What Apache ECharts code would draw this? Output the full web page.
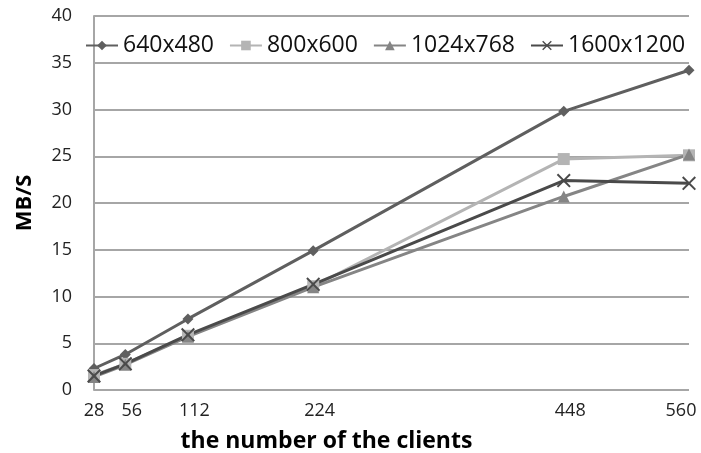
<!DOCTYPE html>
<html>
<head>
<meta charset="utf-8">
<script src="https://cdn.jsdelivr.net/npm/echarts@6/dist/echarts.min.js"></script>
<style>
html, body { margin: 0; padding: 0; background: #fff; }
#main { width: 701px; height: 453px; }
</style>
</head>
<body>
<div id="main"></div>
<script>
var clients = [28, 56, 112, 224, 448, 560];
var r640 = [2.3, 3.8, 7.6, 14.9, 29.8, 34.2];
var r800 = [1.6, 2.8, 5.8, 11.1, 24.7, 25.1];
var r1024 = [1.4, 2.7, 5.7, 11.0, 20.7, 25.2];
var r1600 = [1.5, 2.8, 5.9, 11.3, 22.4, 22.1];
var names = ['640x480', '800x600', '1024x768', '1600x1200'];

var chart = echarts.init(document.getElementById('main'), null, { renderer: 'canvas' });

function pairs(ys) {
    return clients.map(function (x, i) { return [x, ys[i]]; });
}

var crossPath = 'path://M0,1 L1,0 L5,4 L9,0 L10,1 L6,5 L10,9 L9,10 L5,6 L1,10 L0,9 L4,5 Z';
var font = '"Open Sans", "Liberation Sans", sans-serif';

var option = {
    animation: false,
    textStyle: { fontFamily: font },
    grid: { left: 94, right: 12, top: 16, bottom: 63, outerBoundsMode: 'none' },
    legend: {
        left: 80,
        top: 29,
        itemWidth: 32,
        itemHeight: 12,
        itemGap: 15,
        data: names,
        textStyle: { fontSize: 23, color: '#111', fontFamily: font }
    },
    xAxis: {
        type: 'value',
        min: 28,
        max: 560,
        name: 'the number of the clients',
        nameLocation: 'middle',
        nameGap: 40,
        nameTextStyle: { fontSize: 23, fontWeight: 'bold', color: '#000', padding: [0, 130, 0, 0] },
        axisLine: { show: false },
        axisTick: { show: false },
        splitLine: { show: false },
        axisLabel: {
            customValues: clients,
            fontSize: 18,
            color: '#222',
            margin: 12,
            formatter: function (v) {
                if (v === clients[0]) return '' + v;
                if (v === clients[clients.length - 1]) return '{r|' + v + '}';
                return '{m|' + v + '}';
            },
            rich: {
                m: { fontSize: 18, color: '#222', fontFamily: font, padding: [0, 0, 0, 13] },
                r: { fontSize: 18, color: '#222', fontFamily: font, padding: [0, 16, 0, 0] }
            }
        }
    },
    yAxis: {
        type: 'value',
        min: 0,
        max: 40,
        interval: 5,
        name: 'MB/S',
        nameLocation: 'middle',
        nameGap: 58,
        nameTextStyle: { fontSize: 22, fontWeight: 'bold', color: '#000' },
        axisLine: { show: true, lineStyle: { color: '#a6a6a6', width: 2 } },
        axisTick: { show: false },
        axisLabel: { fontSize: 18, color: '#222', margin: 22 },
        splitLine: { lineStyle: { color: '#a6a6a6', width: 2 } }
    },
    series: [
        {
            name: names[0], type: 'line', data: pairs(r640),
            symbol: 'diamond', symbolSize: 11,
            lineStyle: { width: 3, color: '#5f5f5f' },
            itemStyle: { color: '#5f5f5f' }
        },
        {
            name: names[1], type: 'line', data: pairs(r800),
            symbol: 'rect', symbolSize: 12,
            lineStyle: { width: 3, color: '#b4b4b4' },
            itemStyle: { color: '#b4b4b4' }
        },
        {
            name: names[2], type: 'line', data: pairs(r1024),
            symbol: 'triangle', symbolSize: 12,
            lineStyle: { width: 3, color: '#858585' },
            itemStyle: { color: '#858585' }
        },
        {
            name: names[3], type: 'line', data: pairs(r1600),
            symbol: crossPath, symbolSize: 14,
            lineStyle: { width: 3, color: '#4a4a4a' },
            itemStyle: { color: '#4a4a4a' }
        }
    ]
};

chart.setOption(option);
window.addEventListener('resize', chart.resize);
</script>
</body>
</html>
